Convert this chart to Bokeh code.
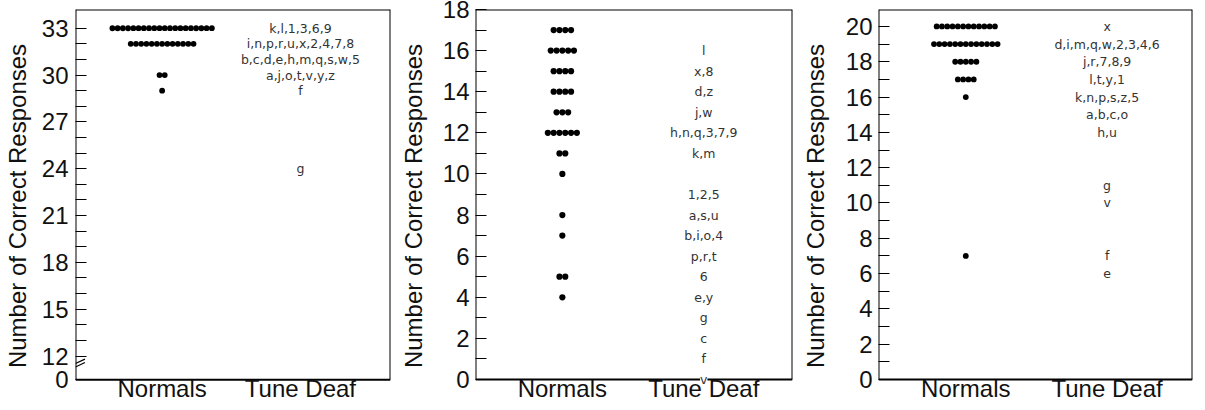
from bokeh.plotting import figure
from bokeh.layouts import row
from bokeh.models import Range1d, FixedTicker, ColumnDataSource, LabelSet, Label
from bokeh.core.properties import value
from bokeh.embed import file_html
from bokeh.resources import INLINE

# ---------------- data ----------------
groups = ["Normals", "Tune Deaf"]
axis_title = "Number of Correct Responses"

# Panel 1 (axis broken below 12)
p1_norm_scores = [33, 32, 30, 29]
p1_norm_counts = [20, 13, 2, 1]
p1_td_scores = [33, 32, 31, 30, 29, 24]
p1_td_labels = ["k,l,1,3,6,9", "i,n,p,r,u,x,2,4,7,8", "b,c,d,e,h,m,q,s,w,5",
                "a,j,o,t,v,y,z", "f", "g"]
p1_major = [12, 15, 18, 21, 24, 27, 30, 33]
p1_break_label = "0"

# Panel 2
p2_norm_scores = [17, 16, 15, 14, 13, 12, 11, 10, 8, 7, 5, 4]
p2_norm_counts = [4, 5, 4, 4, 3, 6, 2, 1, 1, 1, 2, 1]
p2_td_scores = [16, 15, 14, 13, 12, 11, 9, 8, 7, 6, 5, 4, 3, 2, 1, 0]
p2_td_labels = ["l", "x,8", "d,z", "j,w", "h,n,q,3,7,9", "k,m", "1,2,5", "a,s,u",
                "b,i,o,4", "p,r,t", "6", "e,y", "g", "c", "f", "v"]
p2_major = [0, 2, 4, 6, 8, 10, 12, 14, 16, 18]

# Panel 3
p3_norm_scores = [20, 19, 18, 17, 16, 7]
p3_norm_counts = [12, 13, 5, 4, 1, 1]
p3_td_scores = [20, 19, 18, 17, 16, 15, 14, 11, 10, 7, 6]
p3_td_labels = ["x", "d,i,m,q,w,2,3,4,6", "j,r,7,8,9", "l,t,y,1", "k,n,p,s,z,5",
                "a,b,c,o", "h,u", "g", "v", "f", "e"]
p3_major = [0, 2, 4, 6, 8, 10, 12, 14, 16, 18, 20]

AX_FONT = "Liberation Sans"
LBL_FONT = "DejaVu Sans"

H = 410          # canvas height
TOP_SHIFT = 8    # canvas starts 8px above the window top (negative margin)
AXIS_Y = 379     # window y of the drawn bottom axis line
EXTRA = 23       # px of frame kept below the axis line for the group names


def make_panel(width, bl, br, frame_top, y_lo, y_hi, majors, minors, xpos,
               norm_scores, norm_counts, td_scores, td_labels,
               dot_px, dot_size, lab_std, title_std, overrides=None):
    ppu = (AXIS_Y - frame_top) / (y_hi - y_lo)
    y_start = y_lo - EXTRA / ppu
    bt = frame_top + TOP_SHIFT
    bb = H - bt - (AXIS_Y - frame_top) - EXTRA
    p = figure(width=width, height=H, output_backend="svg",
               toolbar_location=None, title=None, x_axis_location=None,
               x_range=Range1d(0, 1), y_range=Range1d(y_start, y_hi),
               min_border_left=bl, min_border_right=br,
               min_border_top=bt, min_border_bottom=max(bb, 0))
    p.grid.visible = False
    p.outline_line_color = None
    p.background_fill_color = "white"
    p.border_fill_color = "white"

    # box: top, bottom (axis), left, right
    p.segment(x0=[0, 0, 0, 1], y0=[y_hi, y_lo, y_lo, y_lo],
              x1=[1, 1, 0, 1], y1=[y_hi, y_lo, y_hi, y_hi],
              line_color="black", line_width=2)

    frame_w = width - bl - br
    sp = dot_px / frame_w
    xs, ys = [], []
    for s, n in zip(norm_scores, norm_counts):
        for i in range(n):
            xs.append(xpos[0] + (i - (n - 1) / 2) * sp)
            ys.append(s)
    p.scatter(xs, ys, size=dot_size, color="black", line_width=0)

    src = ColumnDataSource(dict(x=[xpos[1]] * len(td_scores), y=td_scores,
                                t=td_labels))
    ls = LabelSet(x="x", y="y", text="t", source=src,
                  text_align=value("center"), text_baseline=value("middle"),
                  text_font=value(LBL_FONT), text_font_size=value("12.5px"),
                  text_color=value("#333333"),
                  background_fill_color="white")
    p.add_layout(ls)

    # group names under the axis line
    for gx, g in zip(xpos, groups):
        p.add_layout(Label(x=gx, y=y_lo, y_offset=-9, text=g,
                           text_align="center", text_baseline="alphabetic",
                           text_font=AX_FONT, text_font_size="24px",
                           text_color="#111111"))

    # y axis
    ya = p.yaxis[0]
    ya.ticker = FixedTicker(ticks=majors, minor_ticks=minors)
    ya.axis_label = axis_title
    ya.axis_label_text_font = AX_FONT
    ya.axis_label_text_font_size = "24px"
    ya.axis_label_text_font_style = "normal"
    ya.axis_label_text_color = "#111111"
    ya.axis_label_standoff = title_std
    ya.major_label_text_font = AX_FONT
    ya.major_label_text_font_size = "24px"
    ya.major_label_text_color = "#111111"
    ya.major_label_standoff = lab_std
    ya.major_tick_in = 11
    ya.major_tick_out = 0
    ya.minor_tick_in = 11
    ya.minor_tick_out = 0
    ya.major_tick_line_color = "black"
    ya.minor_tick_line_color = "black"
    ya.axis_line_color = None
    if overrides:
        ya.major_label_overrides = overrides
    return p


# Panel 1: broken axis, bottom value mapped just below 12
p1_bottom = 10.48
p1 = make_panel(392, 71, 2, 5, p1_bottom, 34.2,
                [p1_bottom] + p1_major, [v for v in range(13, 34) if v not in p1_major],
                (0.275, 0.714), p1_norm_scores, p1_norm_counts,
                p1_td_scores, p1_td_labels, 5.3, 5.8, 7, 8,
                overrides={p1_bottom: p1_break_label})
# axis-break mark
p1.segment(x0=[0, 0], y0=[11.30, 11.52], x1=[0.03, 0.03], y1=[11.58, 11.80],
           line_color="black", line_width=1.2)

p2 = make_panel(402, 83, 2, 9, 0, 18, p2_major, list(range(1, 18, 2)),
                (0.274, 0.72), p2_norm_scores, p2_norm_counts,
                p2_td_scores, p2_td_labels, 5.8, 6.2, 6, 13)

p3 = make_panel(401, 84, 3, 9, 0, 20.96, p3_major, list(range(1, 20, 2)),
                (0.278, 0.728), p3_norm_scores, p3_norm_counts,
                p3_td_scores, p3_td_labels, 5.3, 5.8, 6, 14)

layout = row(p1, p2, p3, styles={"margin-top": "-8px"})

open("out.html", "w").write(file_html(layout, INLINE))
